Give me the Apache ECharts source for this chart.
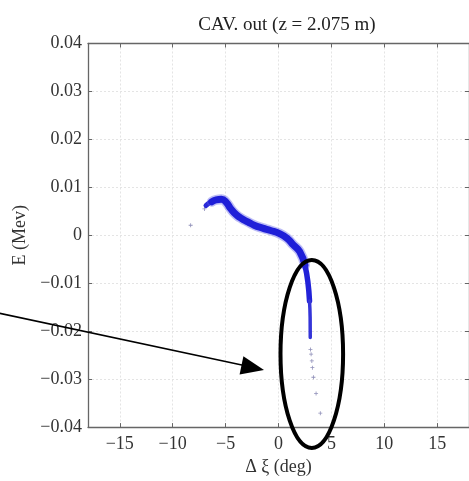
<!DOCTYPE html>
<html>
<head>
<meta charset="utf-8">
<script src="https://cdn.jsdelivr.net/npm/echarts@6/dist/echarts.min.js"></script>
<style>html,body{margin:0;padding:0;background:#fff}#c{width:469px;height:481px}</style>
</head>
<body>
<div id="c"></div>
<script>
// ---- data ----
const xTicks = [-15, -10, -5, 0, 5, 10, 15];
const yTicks = [-0.04, -0.03, -0.02, -0.01, 0, 0.01, 0.02, 0.03, 0.04];

// head of the particle band (thin)
const headX = [-6.85, -6.5, -6.1];
const headY = [0.0062, 0.0068, 0.0072];
// main dense band
const bandX = [-6.3, -5.9, -5.4, -4.95, -4.5, -4.0, -3.5, -2.9, -2.3, -1.5, -0.75, 0.05, 0.8, 1.4, 2.0, 2.5];
const bandY = [0.0070, 0.0074, 0.0075, 0.0069, 0.0055, 0.0043, 0.0035, 0.0028, 0.0021, 0.0015, 0.0010, 0.0004, -0.0006, -0.0020, -0.0034, -0.0062];
// narrowing neck
const neckX = [2.5, 2.77, 2.93];
const neckY = [-0.0062, -0.0096, -0.0137];
// thin tail
const tailX = [2.93, 2.99, 3.0];
const tailY = [-0.0137, -0.0172, -0.0213];
// sparse particles
const dotsX = [-8.3, -7.0, 3.02, 3.08, 3.15, 3.2, 3.3, 3.55, 3.95];
const dotsY = [0.0021, 0.0055, -0.0238, -0.0248, -0.0262, -0.0276, -0.0296, -0.033, -0.0371];

const zip = (a, b) => a.map((v, i) => [v, b[i]]);
const FONT = 'Liberation Serif';
const FS = 18;
const fmtMinus = v => (Math.abs(v) < 1e-12 ? '0' : String(+v.toFixed(2)).replace('-', '\u2212'));

const axisLine = { show: true, onZero: false, lineStyle: { color: '#666', width: 1.3 } };
const split = { show: true, lineStyle: { color: '#e4e4e4', width: 1, type: [2, 2] } };

const chart = echarts.init(document.getElementById('c'), null, { renderer: 'canvas' });
chart.setOption({
  animation: false,
  backgroundColor: '#fff',
  title: {
    text: 'CAV. out (z = 2.075 m)',
    left: 282, top: 11, textAlign: 'center',
    textStyle: { fontFamily: FONT, fontSize: 19, fontWeight: 'normal', color: '#222' }
  },
  grid: { left: 88, top: 43.5, right: -6, bottom: 51, containLabel: false },
  xAxis: [{
    type: 'value', min: -18, max: 18,
    name: '\u0394 \u03BE (deg)', nameLocation: 'middle', nameGap: 29,
    nameTextStyle: { fontFamily: FONT, fontSize: FS, color: '#333' },
    axisLine: axisLine,
    axisTick: { show: true, inside: true, length: 4, customValues: xTicks, lineStyle: { color: '#666' } },
    axisLabel: { customValues: xTicks, formatter: fmtMinus, fontFamily: FONT, fontSize: FS, color: '#333', margin: 8 },
    splitLine: split
  }, {
    type: 'value', min: -18, max: 18, position: 'top',
    axisLine: axisLine,
    axisTick: { show: true, inside: true, length: 4, customValues: xTicks, lineStyle: { color: '#666' } },
    axisLabel: { show: false, customValues: xTicks },
    splitLine: { show: false }
  }],
  yAxis: [{
    type: 'value', min: -0.04, max: 0.04, interval: 0.01,
    name: 'E (Mev)', nameLocation: 'middle', nameGap: 57,
    nameTextStyle: { fontFamily: FONT, fontSize: FS, color: '#333' },
    axisLine: axisLine,
    axisTick: { show: true, inside: true, length: 4, lineStyle: { color: '#666' } },
    axisLabel: { formatter: fmtMinus, fontFamily: FONT, fontSize: FS, color: '#333', margin: 6 },
    splitLine: split
  }, {
    type: 'value', min: -0.04, max: 0.04, interval: 0.01, position: 'right',
    axisLine: axisLine,
    axisTick: { show: true, inside: true, length: 4, lineStyle: { color: '#666' } },
    axisLabel: { show: false },
    splitLine: { show: false }
  }],
  series: [
    { type: 'line', data: zip(headX, headY), smooth: true, showSymbol: false, silent: true,
      lineStyle: { color: '#2a2ad8', width: 5, cap: 'round', join: 'round' } },
    { type: 'line', data: zip(bandX, bandY), smooth: true, showSymbol: false, silent: true,
      lineStyle: { color: '#5a5ae8', width: 10, cap: 'round', join: 'round', opacity: 0.4 } },
    { type: 'line', data: zip(bandX, bandY), smooth: true, showSymbol: false, silent: true,
      lineStyle: { color: '#1f1fd8', width: 7, cap: 'round', join: 'round' } },
    { type: 'line', data: zip(neckX, neckY), smooth: true, showSymbol: false, silent: true,
      lineStyle: { color: '#2222d8', width: 5.5, cap: 'round', join: 'round' } },
    { type: 'line', data: zip(tailX, tailY), smooth: true, showSymbol: false, silent: true,
      lineStyle: { color: '#3535d8', width: 3.5, cap: 'round', join: 'round' } },
    { type: 'scatter', data: zip(dotsX, dotsY), silent: true,
      symbol: 'path://M4,0h2v4h4v2h-4v4h-2v-4h-4v-2h4z', symbolSize: 4,
      itemStyle: { color: '#7474a8' } }
  ],
  graphic: [
    { type: 'ellipse', z: 100, shape: { cx: 311.8, cy: 354, rx: 31.3, ry: 94 },
      style: { fill: 'none', stroke: '#000', lineWidth: 4 } },
    { type: 'line', z: 100, shape: { x1: -2, y1: 313, x2: 243, y2: 365.3 },
      style: { stroke: '#000', lineWidth: 1.6 } },
    { type: 'polygon', z: 100, shape: { points: [[264, 370], [239.6, 374.6], [243.4, 356.3]] },
      style: { fill: '#000' } }
  ]
});
</script>
</body>
</html>
